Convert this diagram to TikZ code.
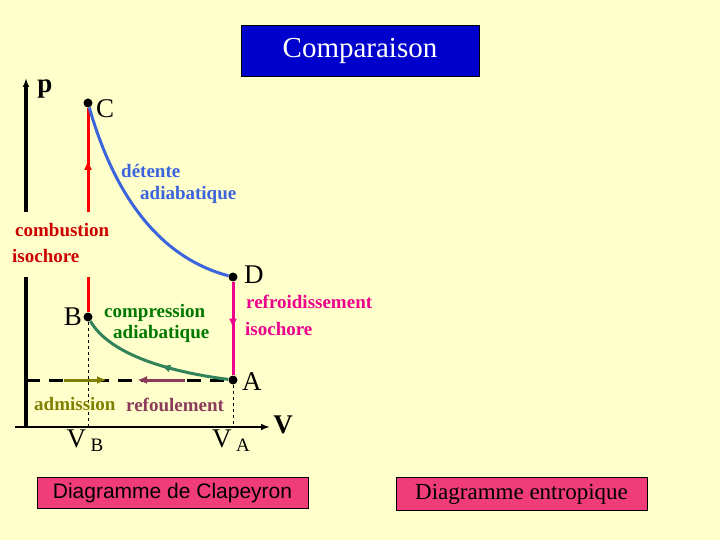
\documentclass[tikz,border=0pt]{standalone}
\usepackage{fontspec}
\setmainfont{Liberation Serif}
\newfontfamily\arialf{Liberation Sans}
\usetikzlibrary{arrows.meta,decorations.markings}
\begin{document}
\begin{tikzpicture}[x=1pt,y=-1pt,
  lbl/.style={font=\bfseries\fontsize{19}{22}\selectfont,align=left,inner sep=0pt},
  big/.style={font=\fontsize{27}{29}\selectfont,inner sep=0pt},
  dot/.style={circle,fill=black,inner sep=0pt,minimum size=9pt},
  mid/.style={postaction={decorate},decoration={markings,mark=at position #1 with {\arrow{Latex[length=10pt,width=8pt]}}}}]
\fill[fill={rgb,255:red,255;green,255;blue,204}] (0,0) rectangle (720,540);
\node[draw=black,fill={rgb,255:red,0;green,0;blue,204},minimum width=238pt,minimum height=51pt,text=white,font=\fontsize{29}{31}\selectfont] (title) at (360,50.5) {Comparaison};
% axes
\coordinate (y0) at (26,427); \coordinate (y1) at (26,212); \coordinate (y2) at (26,277); \coordinate (ytop) at (26,78);
\draw[line width=3.5pt] (y0) -- (y2);
\draw[line width=3.5pt,-{Latex[length=9pt]}] (y1) -- (ytop);
\coordinate (x0) at (15,427); \coordinate (x1) at (270,427);
\draw[line width=2.5pt,-{Latex[length=9pt]}] (x0) -- (x1);
\node[big,font=\bfseries\fontsize{27}{29}\selectfont] (p) at (45,89) {p};
\node[big,font=\bfseries\fontsize{27}{29}\selectfont] (V) at (283,425) {V};
% points
\node[dot] (C) at (88,103) {};
\node[dot] (B) at (88,317) {};
\node[dot] (D) at (233,277) {};
\node[dot] (A) at (233,380) {};
\node[big,anchor=west] (Cl) at (96,109) {C};
\node[big,anchor=west] (Dl) at (244,275) {D};
\node[big,anchor=east] (Bl) at (82,317) {B};
\node[big,anchor=west] (Al) at (242,382) {A};
% dashed
\coordinate (d0) at (26,380);
\draw[line width=3pt,dash pattern=on 14pt off 9pt] (d0) -- (A);
\coordinate (vb) at (88,427); \coordinate (va) at (233,427);
\draw[dashed,thin] (B) -- (vb); \draw[dashed,thin] (A) -- (va);
\coordinate (ad0) at (64,380); \coordinate (ad1) at (107,380);
\draw[line width=3pt,color={rgb,255:red,128;green,128;blue,0},-{Latex[length=10pt,width=8pt]}] (ad0) -- (ad1);
\coordinate (rf0) at (185,380); \coordinate (rf1) at (137,380);
\draw[line width=3pt,color={rgb,255:red,140;green,60;blue,90},-{Latex[length=10pt,width=8pt]}] (rf0) -- (rf1);
% red
\coordinate (r1) at (88,212); \coordinate (r2) at (88,277);
\draw[red,line width=3pt,mid=0.5] (r1) -- (C);
\draw[red,line width=3pt] (B) -- (r2);
% magenta
\draw[magenta,line width=3pt,mid=0.5] (D) -- (A);
% blue curve
\draw[color={rgb,255:red,60;green,100;blue,220},line width=3pt] (C) .. controls (110,180) and (150,255) .. (D);
% green curve
\draw[color={rgb,255:red,50;green,130;blue,90},line width=3pt,mid=0.45] (A) .. controls (170,372) and (110,355) .. (B);
% labels
\node[lbl,color={rgb,255:red,60;green,100;blue,220},anchor=west] (det) at (121,171) {détente};
\node[lbl,color={rgb,255:red,60;green,100;blue,220},anchor=west] (adi) at (140,195) {adiabatique};
\node[lbl,color={rgb,255:red,204;green,0;blue,0},anchor=west] (comb) at (15,230) {combustion};
\node[lbl,color={rgb,255:red,204;green,0;blue,0},anchor=west] (iso) at (12,256) {isochore};
\node[lbl,color={rgb,255:red,0;green,120;blue,0},anchor=west] (cp) at (104,313) {compression};
\node[lbl,color={rgb,255:red,0;green,120;blue,0},anchor=west] (ca) at (113,334) {adiabatique};
\node[lbl,color=magenta,anchor=west] (ref) at (246,302) {refroidissement};
\node[lbl,color=magenta,anchor=west] (ri) at (245,329) {isochore};
\node[lbl,color={rgb,255:red,128;green,128;blue,0},anchor=west] (adm) at (34,404) {admission};
\node[lbl,color={rgb,255:red,140;green,60;blue,90},anchor=west] (refl) at (126,405) {refoulement};
\node[big] (VB) at (85,441) {V\,\raisebox{-4pt}{\fontsize{19}{19}\selectfont B}};
\node[big] (VA) at (231,441) {V\,\raisebox{-4pt}{\fontsize{19}{19}\selectfont A}};
% bottom boxes
\node[draw=black,fill={rgb,255:red,240;green,60;blue,120},minimum width=271pt,minimum height=31pt,font=\arialf\fontsize{21}{23}\selectfont] (clap) at (172.5,493) {Diagramme de Clapeyron};
\node[draw=black,fill={rgb,255:red,240;green,60;blue,120},minimum width=251pt,minimum height=33pt,font=\fontsize{23}{25}\selectfont] (entr) at (521.5,494) {Diagramme entropique};
\end{tikzpicture}
\end{document}
